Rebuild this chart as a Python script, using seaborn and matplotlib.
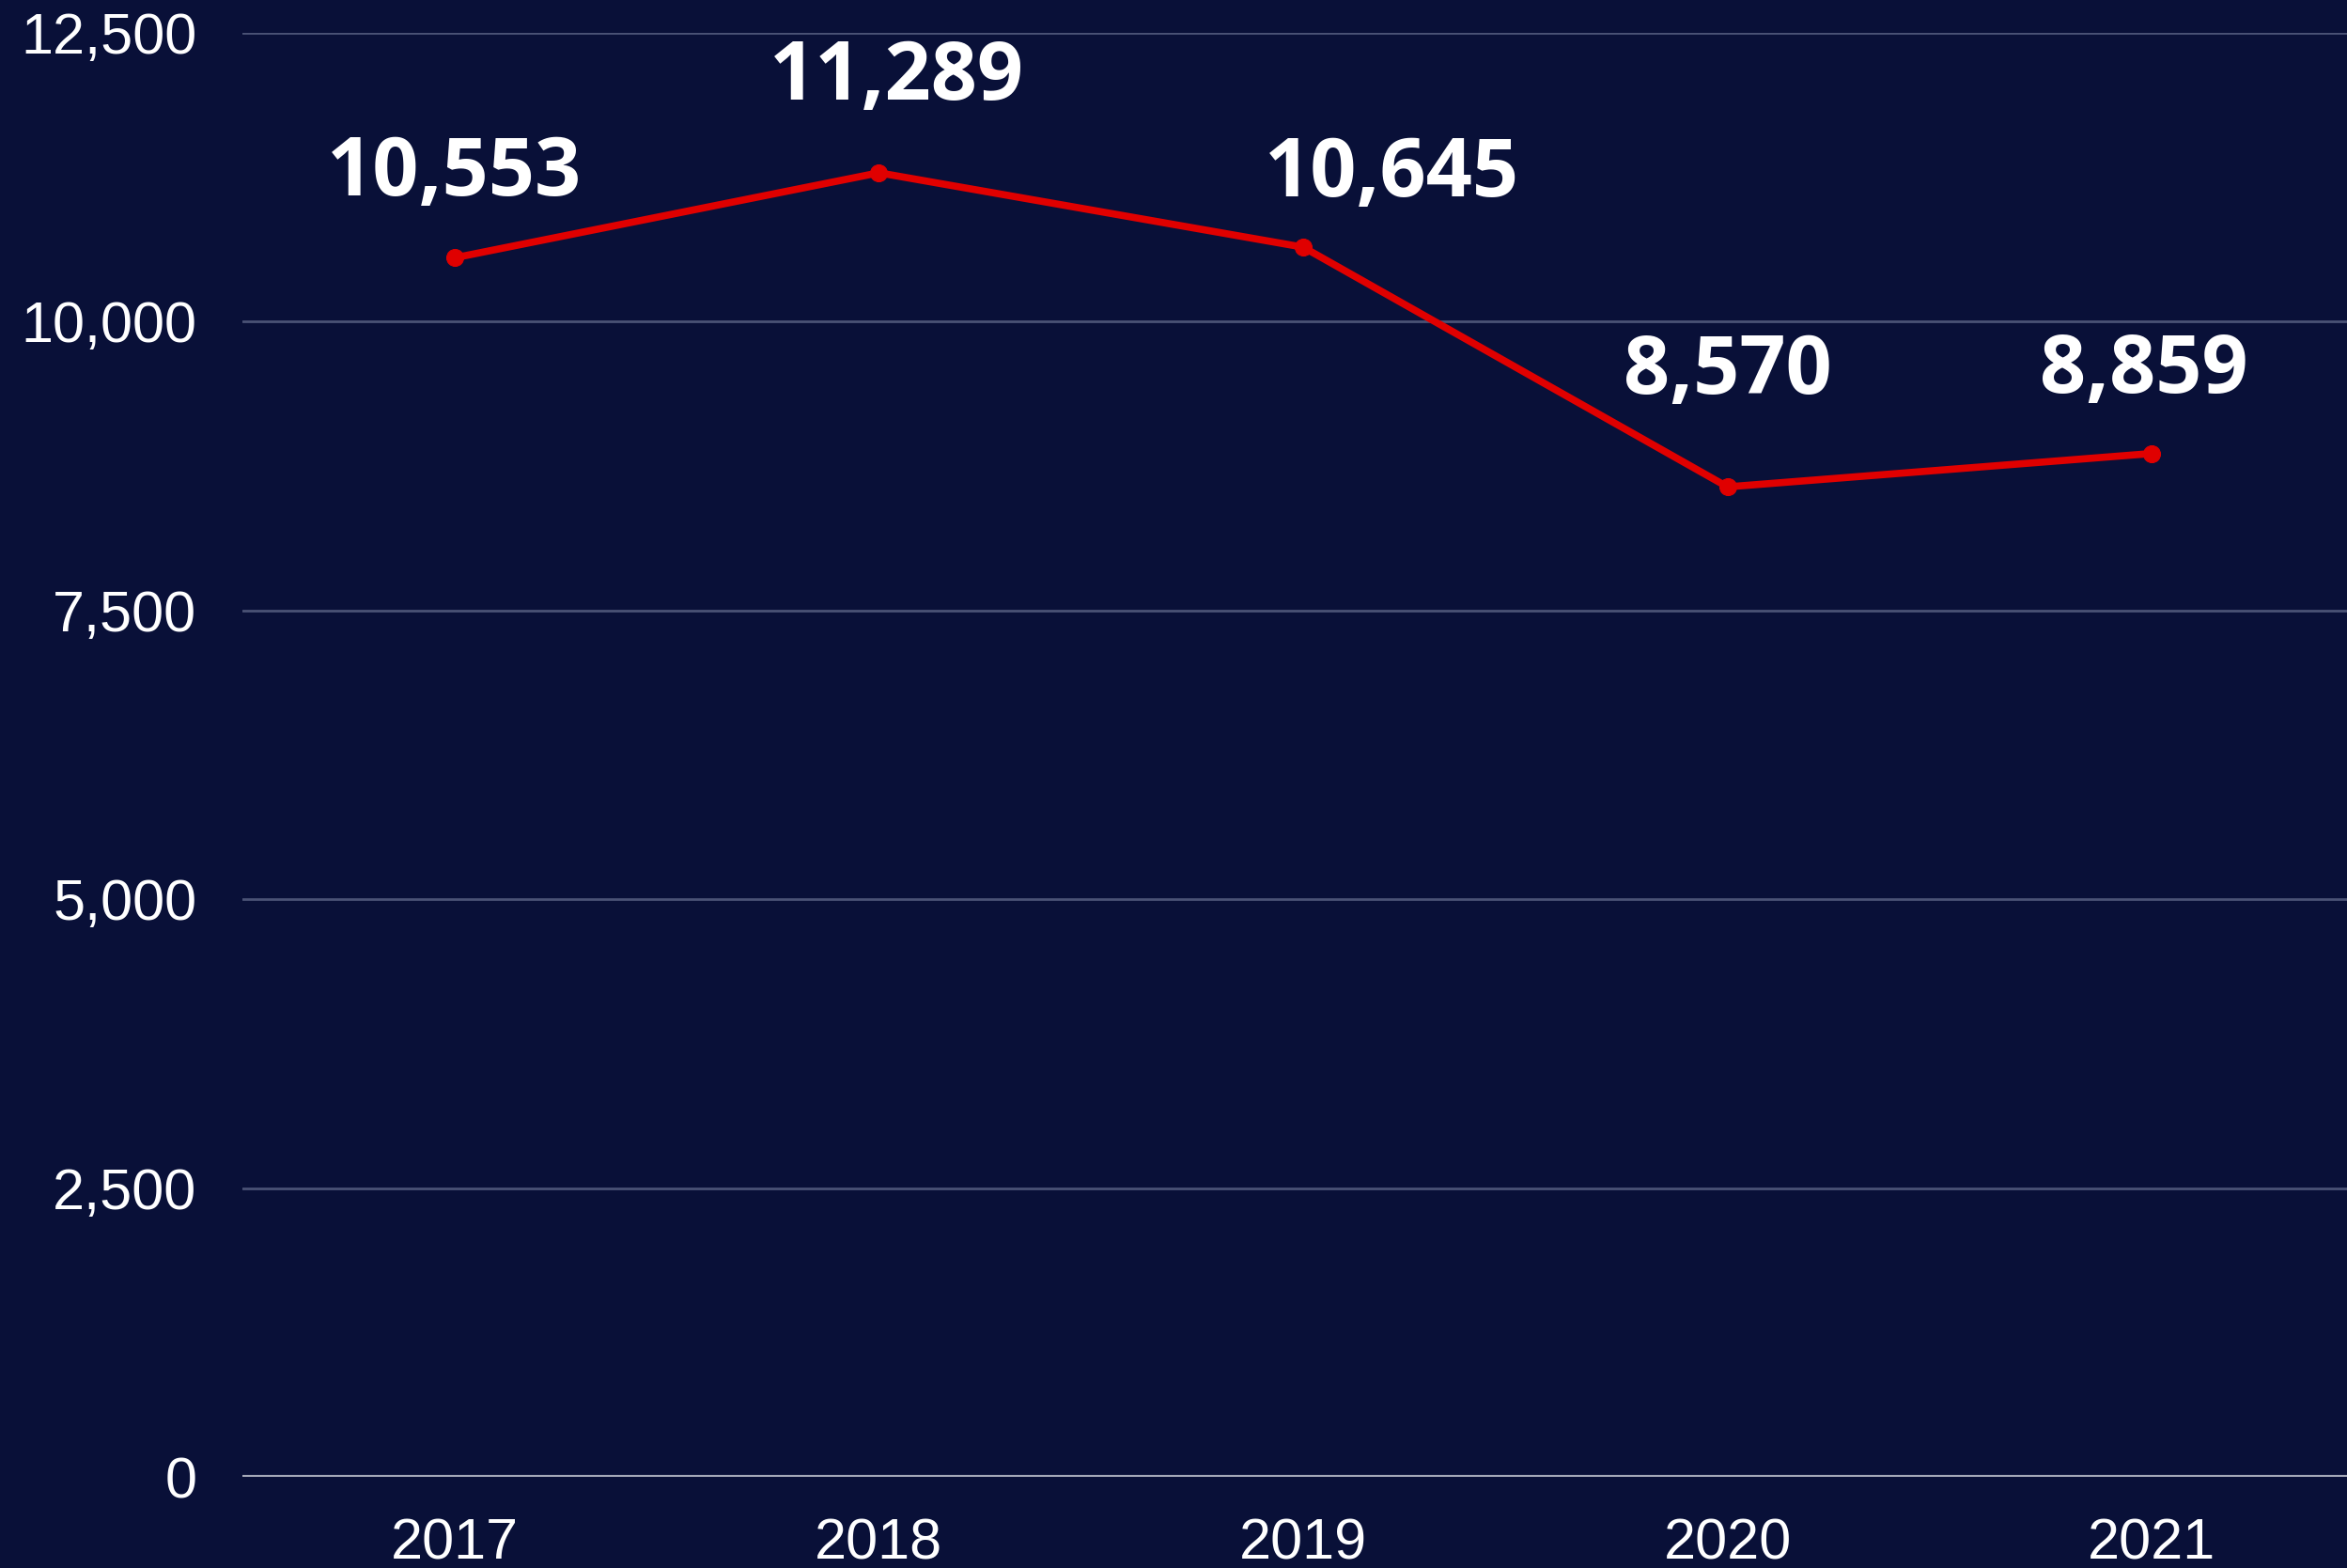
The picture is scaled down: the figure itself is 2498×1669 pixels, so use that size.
import pandas as pd
import seaborn as sns
import matplotlib.pyplot as plt
from matplotlib.ticker import FuncFormatter

# Data
years = ['2017', '2018', '2019', '2020', '2021']
values = [10553, 11289, 10645, 8570, 8859]
# label offsets in pixels (dx, dy) from each point
label_dx = [0, 19, 94, 0, -8]
label_dy = [89, 100, 77, 122, 87]

bg = '#091038'
red = '#e00000'

def draw_plot():
    df = pd.DataFrame({'Year': years, 'Value': values})

    sns.set_style('dark')
    plt.rcParams['font.family'] = ['Liberation Sans', 'DejaVu Sans']

    fig = plt.figure(figsize=(24.98, 16.69), dpi=100)
    fig.patch.set_facecolor(bg)
    ax = fig.add_axes([258 / 2498, 97 / 1669, 2240 / 2498, 1537 / 1669])
    ax.set_facecolor(bg)

    sns.lineplot(x='Year', y='Value', data=df, ax=ax, color=red,
                 linewidth=5.5, marker='o', markersize=13,
                 markeredgecolor=red, sort=False)

    # value labels
    for i, v in enumerate(values):
        ax.annotate(f'{v:,}', (i, v), xytext=(label_dx[i], label_dy[i]),
                    textcoords='offset pixels', ha='center', va='center',
                    color='white', fontsize=62, fontweight='bold',
                    family=['Open Sans', 'DejaVu Sans'])

    ax.set_ylim(0, 12500)
    ax.set_xlim(-0.5, 4.46)
    ax.set_yticks([0, 2500, 5000, 7500, 10000, 12500])
    ax.yaxis.set_major_formatter(FuncFormatter(lambda y, p: f'{int(y):,}'))

    ax.grid(axis='y', color='#4a5275', linewidth=2)
    ax.grid(axis='x', visible=False)
    ax.axhline(0, color='#a4a8b8', linewidth=3, zorder=1)
    for s in ax.spines.values():
        s.set_visible(False)

    ax.tick_params(axis='y', length=0, pad=35, labelsize=44, labelcolor='white')
    ax.tick_params(axis='x', length=0, pad=31, labelsize=44, labelcolor='white')
    ax.set_xlabel('')
    ax.set_ylabel('')

    plt.savefig('out.png', facecolor=bg)
    return ax


if __name__ == '__main__':
    draw_plot()
